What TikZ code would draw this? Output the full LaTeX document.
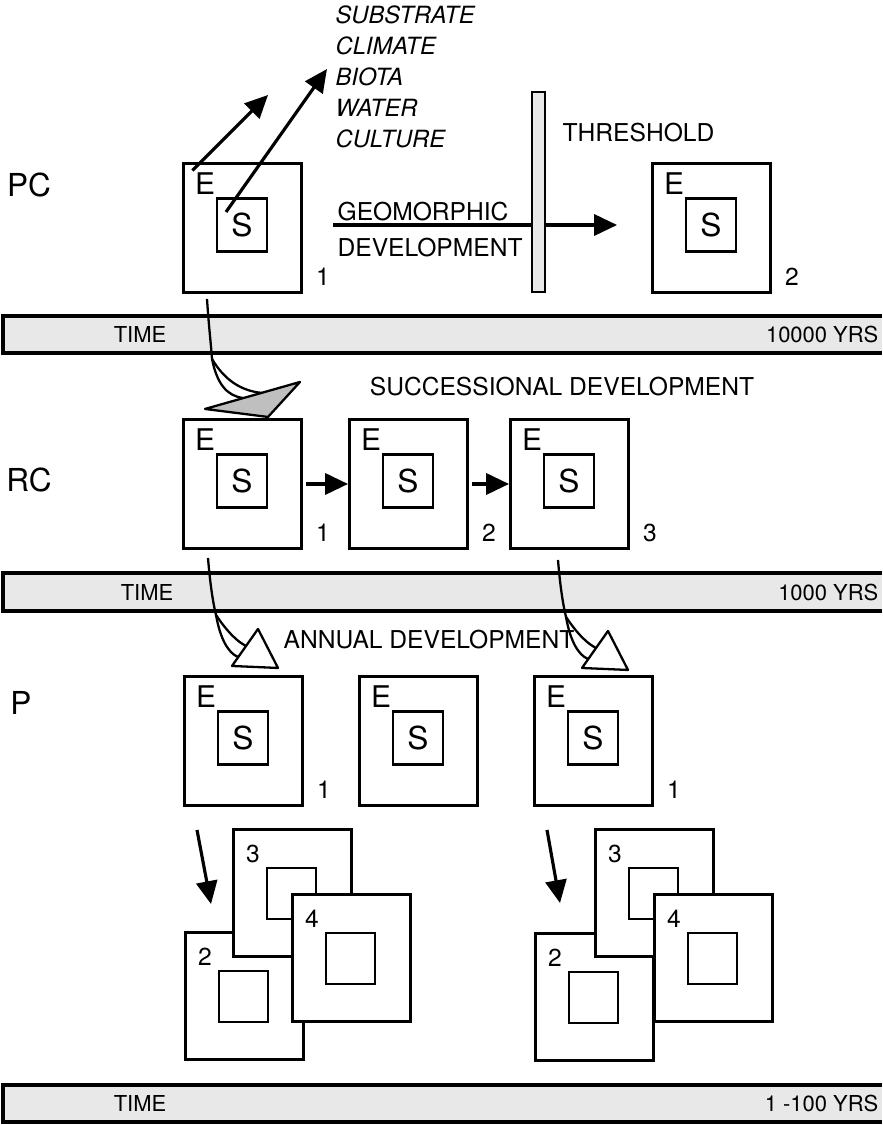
\documentclass[tikz,border=0pt]{standalone}
\usepackage{fontspec}
\setmainfont{TeX Gyre Heros}
\usetikzlibrary{arrows.meta,positioning,calc}
\tikzset{every picture/.style={line width=0.75pt}}

% box with E and S, number at lower right
\newcommand{\esbox}[4]{%
  \node[obox] (#1) at (#2,#3) {};
  \node[ibox] (#1s) at ($(#1.north west)+(60,63)$) {S};
  \node[etxt] (#1e) at ($(#1.north west)+(23,22)$) {E};
  \node[numtxt] (#1n) at ($(#1.north west)+(141,115)$) {#4};
}
% plain stacked box, number at upper left
\newcommand{\stackbox}[4]{%
  \node[obox,fill=white,minimum height=2.54cm] (#1) at (#2,#3) {};
  \node[ibox,minimum width=0.98cm,minimum height=1.02cm] (#1s) at ($(#1.north west)+(59.5,65.5)$) {};
  \node[numtxt] (#1n) at ($(#1.north west)+(21,26)$) {#4};
}

\begin{document}
\begin{tikzpicture}[x=0.02cm,y=-0.02cm,
    obox/.style={draw,line width=1.7pt,anchor=north west,inner sep=0pt,
      minimum width=2.36cm,minimum height=2.58cm},
    ibox/.style={draw,line width=1.4pt,inner sep=0pt,fill=white,
      minimum width=1cm,minimum height=1.06cm,font=\fontsize{18}{20}\selectfont},
    etxt/.style={inner sep=0pt,font=\fontsize{17}{19}\selectfont},
    numtxt/.style={inner sep=0pt,font=\fontsize{14}{16}\selectfont},
    lbl/.style={inner sep=0pt,font=\fontsize{14}{16}\selectfont},
    itl/.style={inner sep=0pt,font=\fontsize{13.5}{15}\selectfont\itshape},
    rowlbl/.style={inner sep=0pt,font=\fontsize{18}{20}\selectfont},
    arr/.style={-{Triangle[length=13pt,width=12pt]},line width=1.8pt},
    swoosh/.style={line width=1.3pt,line join=round},
    barfill/.style={fill=black!9}]
    \useasboundingbox (0,0) rectangle (882,1125);

    % === Time bars ===
    \foreach \t/\b/\yr/\tx [count=\i] in {316/353/10000 YRS/140,573/611/1000 YRS/147,1085/1122/1 -100 YRS/140} {
        \fill[barfill] (3,\t) rectangle (882,\b);
        \draw[line width=2.2pt] (882,\t) -- (3,\t) -- (3,\b) -- (882,\b);
        \node[lbl,font=\fontsize{12.5}{14}\selectfont] (time\i) at (\tx,{(\t+\b)/2}) {TIME};
        \node[lbl,font=\fontsize{12.5}{14}\selectfont,anchor=east] (yrs\i) at (879,{(\t+\b)/2}) {\yr};
    }

    % === Row PC ===
    \node[rowlbl] (pc) at (29,185) {PC};
    \esbox{pc1}{182}{162}{1}
    \esbox{pc2}{651}{162}{2}

    % factors
    \foreach \w [count=\i] in {SUBSTRATE,CLIMATE,BIOTA,WATER,CULTURE}
        \node[itl,anchor=west] (fac\i) at (335,{15+31*(\i-1)}) {\w};
    \coordinate (etip) at (268,95);
    \coordinate (stip) at (327,69);
    \draw[arr] ($(pc1e.north west)+(-2,-2)$) -- (etip);
    \draw[arr] ($(pc1s.center)+(-16,-13)$) -- (stip);

    % geomorphic development through threshold
    \coordinate (geo) at (333,225);
    \coordinate (geotip) at (617,225);
    \draw[arr] (geo) -- (geotip);
    \node[lbl,anchor=west] (geom) at (337,212) {GEOMORPHIC};
    \node[lbl,anchor=west] (devl) at (337,248) {DEVELOPMENT};
    \filldraw[barfill,draw=black,line width=1.5pt] (532,92) rectangle (545,292);
    \node[lbl,anchor=west] (thresh) at (562,133) {THRESHOLD};

    % === Row RC ===
    \node[rowlbl] (rc) at (29,480) {RC};
    \node[lbl] (succ) at (562,387) {SUCCESSIONAL DEVELOPMENT};
    \esbox{rc1}{182}{418}{1}
    \esbox{rc2}{348}{418}{2}
    \esbox{rc3}{509}{418}{3}
    \draw[arr,shorten <=0.06cm] (rc1.east) -- (rc2.west);
    \draw[arr,shorten <=0.06cm] (rc2.east) -- (rc3.west);

    % PC -> RC
    \begin{scope}[shift={($(pc1.south west)+(25,5)$)}]
        \draw[swoosh] (0,0) .. controls (2,30) and (4,45) .. (5,60);
        \draw[swoosh] (5,60) .. controls (10,85) and (20,97) .. (36,99);
        \draw[swoosh] (5,60) .. controls (18,82) and (35,92) .. (55,94);
        \filldraw[swoosh,fill=black!25] (-2,110) -- (93,83) -- (61,118) -- cycle;
    \end{scope}

    % === Row P ===
    \node[rowlbl] (p) at (21,703) {P};
    \node[lbl] (annual) at (429,640) {ANNUAL DEVELOPMENT};
    \esbox{pa}{183}{675}{1}
    \esbox{pb}{358}{675}{}
    \esbox{pc}{533}{675}{1}

    % RC -> P
    \foreach \src/\dx/\dy in {rc1/26/8,rc3/49/10} {
        \begin{scope}[shift={($(\src.south west)+(\dx,\dy)$)}]
            \draw[swoosh] (0,0) .. controls (2,25) and (5,45) .. (8,57);
            \draw[swoosh] (8,57) .. controls (12,80) and (20,95) .. (30,99);
            \draw[swoosh] (8,57) .. controls (20,75) and (30,84) .. (38,88);
            \filldraw[swoosh,fill=white] (24,108) -- (50,71) -- (70,110) -- cycle;
        \end{scope}
    }

    % left stack
    \stackbox{la}{184}{931}{2}
    \stackbox{lb}{232}{828}{3}
    \stackbox{lc}{291}{893}{4}
    % right stack
    \stackbox{ra}{534}{932}{2}
    \stackbox{rb}{594}{828}{3}
    \stackbox{rc}{653}{893}{4}

    \draw[arr] ($(pa.south west)+(14,23)$) -- ($(la.north west)+(27,-27)$);
    \draw[arr] ($(pc.south west)+(14,23)$) -- ($(ra.north west)+(26,-29)$);
\end{tikzpicture}
\end{document}
